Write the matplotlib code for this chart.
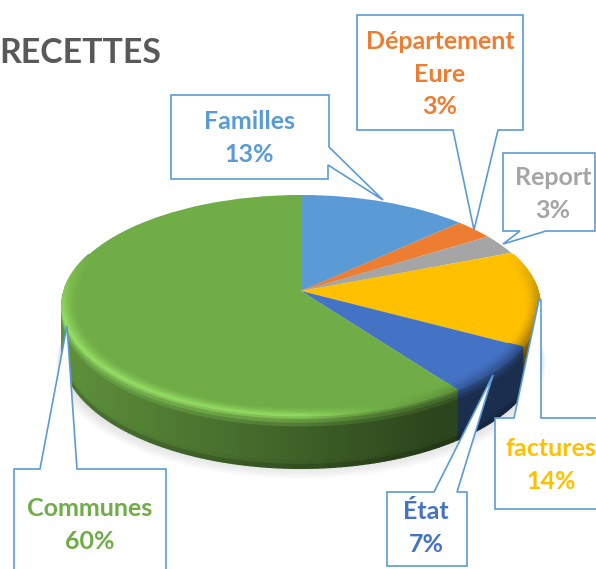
import numpy as np
import matplotlib
matplotlib.use("Agg")
import matplotlib.pyplot as plt
from matplotlib.collections import PolyCollection
from matplotlib.colors import to_rgb
from matplotlib.patches import Polygon
from matplotlib.transforms import Transform

plt.rcParams['font.family'] = ['Lato', 'DejaVu Sans']

# Data
TITLE = "RECETTES"
NAMES = ["Familles", "Département\nEure", "Report", "factures", "État", "Communes"]
VALUES = [13, 3, 3, 14, 7, 60]
COLORS = ["#5b9bd5", "#ed7d31", "#a5a5a5", "#ffc000", "#4472c4", "#70ad47"]

# Layout, in pixels of the 596x569 picture
W, H = 596, 569
CX, CY = 301, 291      # apex of the pie
RX, RY = 237, 108.6    # radii of the tilted disc
K = 0.131              # perspective strength
DEPTH = 45.5           # height of the side wall
LINE = "#5b9bd5"

LABEL_POS = [(249, 138), (440, 74), (553, 194), (551, 465), (426, 528), (90, 525)]

# Callout outlines (box with its pointer)
CALLOUTS = [
    [(171, 95), (329, 95), (329, 147), (383, 200), (328, 165), (328, 179), (171, 179)],
    [(357, 15), (523, 15), (523, 130), (498, 130), (474, 230), (453, 130), (357, 130)],
    [(503, 153), (595, 153), (595, 231), (546, 231), (503, 244), (520, 231), (503, 231)],
    [(495, 418), (514, 418), (539, 300), (541, 300), (541, 418), (600, 418), (600, 509), (495, 509)],
    [(387, 492), (434, 492), (493, 375), (457, 492), (467, 492), (467, 566), (387, 566)],
    [(14, 469), (40, 469), (67, 326), (77, 469), (166, 469), (166, 575), (14, 575)],
]


class Persp(Transform):
    # unit disc -> tilted disc on the page
    input_dims = 2
    output_dims = 2

    def transform_non_affine(self, xy):
        xy = np.asarray(xy, dtype=float)
        w = 1 + K * xy[:, 1]
        return np.column_stack([CX + RX * xy[:, 0] / w, CY - RY * xy[:, 1] / w])


PERSP = Persp()


def rim(theta, r=1.0):
    t = np.radians(theta)
    return PERSP.transform_non_affine(np.column_stack([r * np.cos(t), r * np.sin(t)]))


def depth_at(theta):
    return DEPTH / (1 + K * np.sin(np.radians(theta)))


def side_factor(x):
    return np.clip(0.84 - 0.46 * (x - 62) / 388, 0.4, 0.9)


def high_factor(x):
    return np.interp(x, [62, 300, 450, 540], [1.2, 1.18, 0.85, 0.62])


def strength(theta):
    return np.clip((0.35 - np.sin(np.radians(theta))) / 0.6, 0, 1)


def tint(col, f):
    c = np.array(col) * f
    if f > 1:
        c = c + (f - 1) * 0.35
    return np.clip(c, 0, 1)


fig = plt.figure(figsize=(W / 100, H / 100), dpi=100)
ax = fig.add_axes([0, 0, 1, 1])

wedges, _ = ax.pie(VALUES, colors=COLORS, startangle=90, counterclock=False, radius=1)

ax.set_aspect('auto')
ax.set_xlim(0, W)
ax.set_ylim(H, 0)
ax.axis('off')

# soft shadow under the disc
th = np.linspace(0, 360, 240)
for i in range(9):
    pts = rim(th, 1.0 + 0.003 * i)
    pts[:, 1] += DEPTH + 1 + 1.6 * i
    ax.fill(pts[:, 0], pts[:, 1], color="#808080", alpha=0.035, lw=0, zorder=1)

# side wall and bevel, slice by slice
side_polys, side_cols = [], []
bev_polys, bev_cols = [], []
FS = np.linspace(0, 1, 15)
RS = np.linspace(0.94, 1.0, 8)
for w, col in zip(wedges, COLORS):
    base = to_rgb(col)
    n = max(3, int((w.theta2 - w.theta1) / 1.2))
    ts = np.linspace(w.theta1, w.theta2, n + 1)
    for a, b in zip(ts[:-1], ts[1:]):
        m = (a + b) / 2
        s = strength(m)
        pa, pb = rim(np.array([a]))[0], rim(np.array([b]))[0]
        xm = (pa[0] + pb[0]) / 2
        hi = tint(base, 1 + (high_factor(xm) - 1) * s)
        low = tint(base, side_factor(xm))
        if np.sin(np.radians(m)) < 0.35:
            da, db = depth_at(a), depth_at(b)
            for f0, f1 in zip(FS[:-1], FS[1:]):
                f = (f0 + f1) / 2
                if f < 0.25:
                    c = hi + (low - hi) * (f / 0.25) ** 0.7
                elif f > 0.88:
                    c = low * (1 - (f - 0.88) * 2.2)
                else:
                    c = low
                side_polys.append([(pa[0], pa[1] + f0 * da), (pb[0], pb[1] + f0 * db),
                                   (pb[0], pb[1] + f1 * db), (pa[0], pa[1] + f1 * da)])
                side_cols.append(c)
        if s > 0:
            for r0, r1 in zip(RS[:-1], RS[1:]):
                t = ((r0 + r1) / 2 - RS[0]) / (RS[-1] - RS[0])
                c = np.array(base) + (hi - np.array(base)) * t ** 1.5
                q0, q1 = rim(np.array([a, b]), r0), rim(np.array([a, b]), r1)
                bev_polys.append([q0[0], q0[1], q1[1], q1[0]])
                bev_cols.append(c)

ax.add_collection(PolyCollection(side_polys, facecolors=side_cols, edgecolors=side_cols,
                                 linewidths=1.0, zorder=2))

# top face: the pie wedges, bent onto the tilted disc
for w in wedges:
    w.set_transform(PERSP + ax.transData)
    w.set_linewidth(0)
    w.set_zorder(3)
    w.set_clip_on(False)

ax.add_collection(PolyCollection(bev_polys, facecolors=bev_cols, edgecolors=bev_cols,
                                 linewidths=0.8, zorder=4))

# callouts
for outline in CALLOUTS:
    ax.add_patch(Polygon(outline, closed=True, facecolor="white", edgecolor=LINE,
                         linewidth=1.2, joinstyle='miter', zorder=5))

for name, val, col, (x, y) in zip(NAMES, VALUES, COLORS, LABEL_POS):
    ax.text(x, y, f"{name}\n{val}%", color=col, fontsize=18, fontweight='bold',
            ha='center', va='center', linespacing=1.5, zorder=6)

ax.text(161.5, 53, TITLE, color="#595959", fontsize=24.4, fontweight='bold',
        ha='right', va='center', zorder=6)

fig.savefig("out.png", dpi=100)
